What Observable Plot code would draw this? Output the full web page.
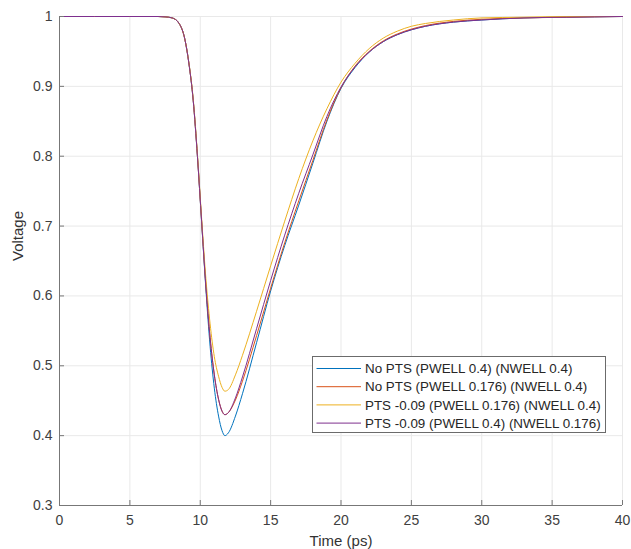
<!DOCTYPE html>
<html><head><meta charset="utf-8">
<script src="https://cdn.jsdelivr.net/npm/d3@7"></script>
<script src="https://cdn.jsdelivr.net/npm/@observablehq/plot@0.6"></script>
<style>
body{margin:0;background:#fff;}
#wrap{position:relative;width:631px;height:549px;overflow:hidden;font-family:"Liberation Sans",Arial,sans-serif;}
#legend{position:absolute;left:312px;top:356px;}
</style></head><body><div id="wrap"></div>
<script>
const time = [0, 5, 7, 7.5, 8, 8.5, 8.9, 9.2, 9.5, 9.8, 10.1, 10.4, 10.7, 11.0, 11.3, 11.55, 11.75, 12.0, 12.5, 13, 14, 15, 16, 17, 18, 19, 20, 21, 22, 23, 24, 25, 26, 28, 30, 33, 36, 40];
const noPtsP04N04 = [1, 1, 1, 0.9995, 0.998, 0.99, 0.968, 0.932, 0.88, 0.80, 0.705, 0.61, 0.528, 0.468, 0.428, 0.407, 0.400, 0.404, 0.428, 0.46, 0.533, 0.607, 0.672, 0.73, 0.79, 0.85, 0.897, 0.927, 0.949, 0.964, 0.974, 0.981, 0.986, 0.992, 0.995, 0.998, 0.999, 1];
const noPtsP0176N04 = [1, 1, 1, 0.9995, 0.998, 0.99, 0.968, 0.932, 0.88, 0.80, 0.706, 0.614, 0.54, 0.487, 0.452, 0.435, 0.430, 0.433, 0.451, 0.478, 0.543, 0.611, 0.676, 0.736, 0.794, 0.852, 0.898, 0.929, 0.95, 0.965, 0.975, 0.982, 0.987, 0.993, 0.996, 0.998, 0.999, 1];
const ptsP0176N04 = [1, 1, 1, 0.9995, 0.998, 0.99, 0.968, 0.933, 0.882, 0.803, 0.71, 0.625, 0.56, 0.513, 0.485, 0.469, 0.4636, 0.466, 0.487, 0.515, 0.578, 0.643, 0.707, 0.768, 0.822, 0.868, 0.906, 0.933, 0.954, 0.969, 0.979, 0.986, 0.99, 0.995, 0.998, 0.999, 1, 1];
const ptsP04N0176 = [1, 1, 1, 0.9995, 0.998, 0.99, 0.968, 0.932, 0.88, 0.80, 0.706, 0.614, 0.54, 0.487, 0.452, 0.435, 0.430, 0.433, 0.454, 0.484, 0.553, 0.622, 0.687, 0.747, 0.802, 0.857, 0.899, 0.928, 0.949, 0.964, 0.974, 0.981, 0.986, 0.992, 0.995, 0.998, 0.999, 1];
const seriesNames = ["No PTS (PWELL 0.4) (NWELL 0.4)", "No PTS (PWELL 0.176) (NWELL 0.4)", "PTS -0.09 (PWELL 0.176) (NWELL 0.4)", "PTS -0.09 (PWELL 0.4) (NWELL 0.176)"];
const seriesValues = [noPtsP04N04, noPtsP0176N04, ptsP0176N04, ptsP04N0176];
const seriesColors = ["#0072BD", "#D95319", "#EDB120", "#7E2F8E"];
const xTicks = [0, 5, 10, 15, 20, 25, 30, 35, 40];
const yTicks = [0.3, 0.4, 0.5, 0.6, 0.7, 0.8, 0.9, 1];
const yTickLabels = ["0.3", "0.4", "0.5", "0.6", "0.7", "0.8", "0.9", "1"];
const xLabel = "Time (ps)";
const yLabel = "Voltage";

const data = seriesNames.flatMap((name, i) => time.map((t, j) => ({series: name, t, v: seriesValues[i][j]})));

const W = 631, H = 549, mL = 59, mR = 9, mT = 16, mB = 44;
const xDomain = [0, 40], yDomain = [0.3, 1];
const tickPx = 5;
const tickDy = (yDomain[1] - yDomain[0]) * tickPx / (H - mT - mB);
const tickDx = (xDomain[1] - xDomain[0]) * tickPx / (W - mL - mR);
const axisColor = "#777";
const textColor = "#404040";

const chart = Plot.plot({
  width: W, height: H,
  marginLeft: mL, marginRight: mR, marginTop: mT, marginBottom: mB,
  style: {fontFamily: '"Liberation Sans", Arial, sans-serif', fontSize: "14px", background: "#fff"},
  x: {domain: xDomain},
  y: {domain: yDomain},
  color: {domain: seriesNames, range: seriesColors},
  marks: [
    Plot.ruleX(xTicks, {x: d => d, y1: yDomain[0], y2: yDomain[1], stroke: "#e9e9e9"}),
    Plot.ruleY(yTicks, {y: d => d, x1: xDomain[0], x2: xDomain[1], stroke: "#e9e9e9"}),
    Plot.line(data, {x: "t", y: "v", z: "series", stroke: "series", strokeWidth: 1, curve: "monotone-x"}),
    Plot.ruleX(xTicks, {x: d => d, y1: yDomain[0], y2: yDomain[0] + tickDy, stroke: axisColor}),
    Plot.ruleY(yTicks, {y: d => d, x1: xDomain[0], x2: xDomain[0] + tickDx, stroke: axisColor}),
    Plot.ruleX([xDomain[0]], {stroke: axisColor}),
    Plot.ruleY([yDomain[0]], {stroke: axisColor}),
    Plot.axisX({ticks: xTicks, tickSize: 0, tickPadding: 10, label: null, color: textColor, fontSize: 14}),
    Plot.axisY({ticks: yTicks, tickSize: 0, tickPadding: 7, label: null, color: textColor, fontSize: 14, tickFormat: d => yTickLabels[yTicks.indexOf(d)]}),
    Plot.text([xLabel], {text: d => d, frameAnchor: "bottom", dy: 40, fontSize: 15, fill: "#333"}),
    Plot.text([yLabel], {text: d => d, frameAnchor: "left", dx: -41, rotate: -90, fontSize: 15, fill: "#333"})
  ]
});

const wrap = document.getElementById("wrap");
wrap.appendChild(chart);

// legend box (HTML overlay drawn as a small SVG)
const legW = 294, legH = 77, rowH = 18.2, rowTop = 12.5;
const leg = d3.create("svg").attr("id", "legend").attr("width", legW).attr("height", legH);
leg.append("rect").attr("x", 0.5).attr("y", 0.5).attr("width", legW - 1).attr("height", legH - 1)
  .attr("fill", "#fff").attr("stroke", "#6b6b6b").attr("stroke-width", 1);
const rows = leg.selectAll("g").data(seriesNames).join("g")
  .attr("transform", (d, i) => `translate(0,${rowTop + i * rowH})`);
rows.append("line").attr("x1", 4.5).attr("x2", 49).attr("y1", 0).attr("y2", 0)
  .attr("stroke", (d, i) => seriesColors[i]).attr("stroke-width", 1);
rows.append("text").attr("x", 53).attr("y", 0).attr("dy", "0.35em")
  .attr("font-family", '"Liberation Sans", Arial, sans-serif').attr("font-size", 13.4)
  .attr("fill", "#262626").text(d => d);
wrap.appendChild(leg.node());
</script></body></html>
